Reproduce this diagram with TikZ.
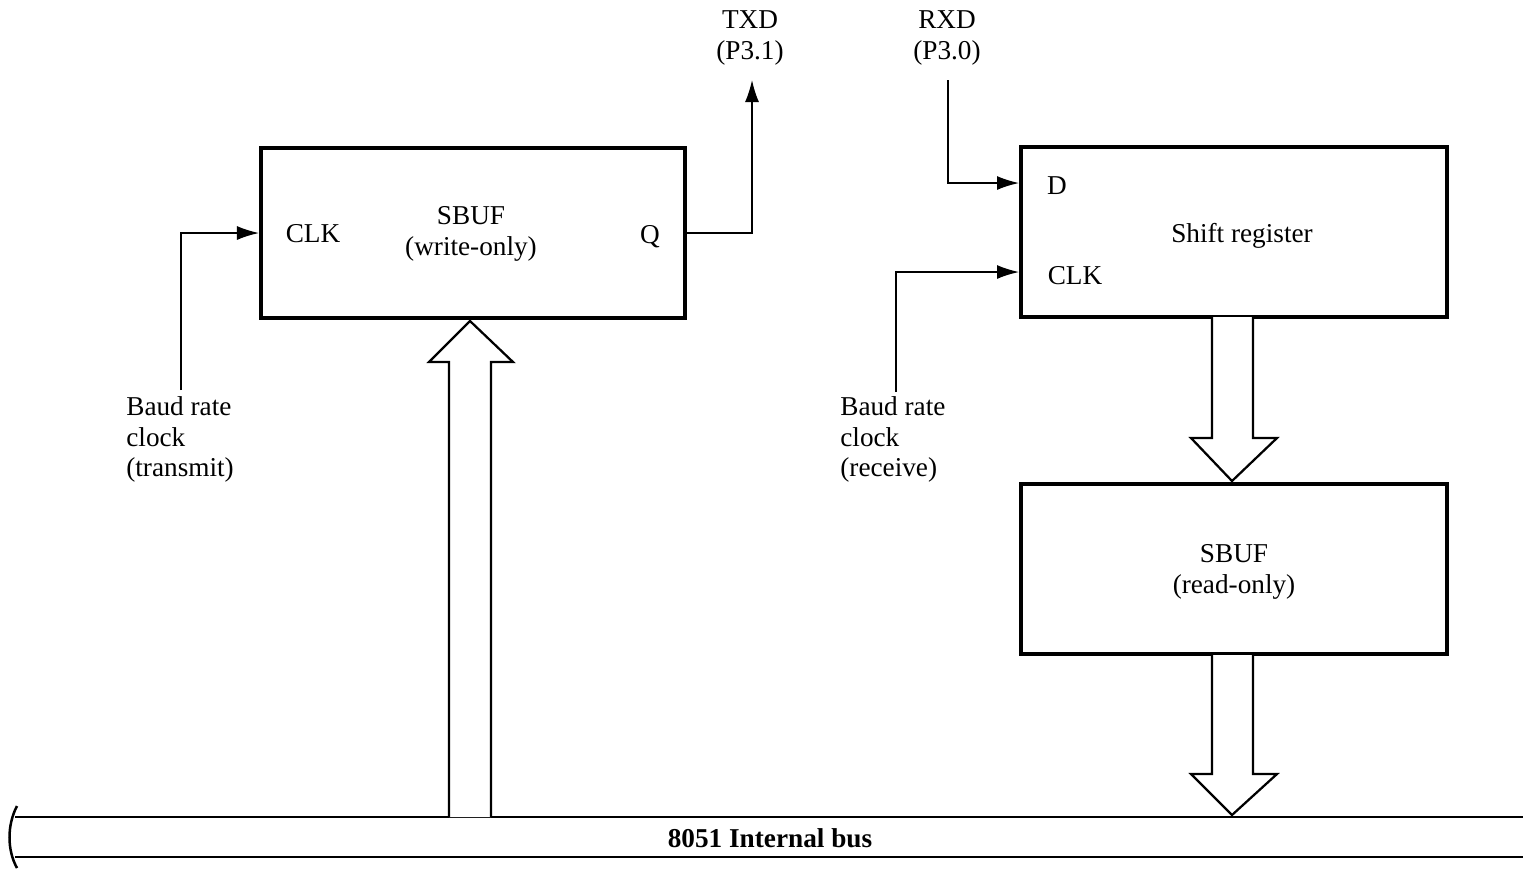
\documentclass[tikz,border=0pt]{standalone}
\usepackage{fontspec}
\setmainfont{Liberation Serif}
\usetikzlibrary{arrows.meta}
\tikzset{
  >={Latex[length=4.4mm,width=2.8mm]},
  regbox/.style={draw,line width=.8mm,inner sep=0pt},
  lbl/.style={font=\fontsize{15.5}{17.5}\selectfont,inner sep=0pt},
  wire/.style={line width=.3mm},
  fat/.style={line width=.45mm,fill=white,line join=miter}
}

\begin{document}
\begin{tikzpicture}[x=.2mm,y=-.2mm]
  \useasboundingbox (0,0) rectangle (1523,868);
  % registers
  \node[regbox,minimum width=84.8mm,minimum height=34mm] (wbuf) at (473,233) {};
  \node[regbox,minimum width=85.2mm,minimum height=34mm] (shreg) at (1234,232) {};
  \node[regbox,minimum width=85.2mm,minimum height=34mm] (rbuf) at (1234,569) {};
  \node[lbl,align=center] (wname) at (471,234) {SBUF\\(write-only)};
  \node[lbl] (wclk) at (313,234) {CLK};
  \node[lbl] (wq) at (650,237) {Q};
  \node[lbl] (sname) at (1242,236) {Shift register};
  \node[lbl] (sd) at (1057,186) {D};
  \node[lbl] (sclk) at (1075,276) {CLK};
  \node[lbl,align=center] (rname) at (1234,572) {SBUF\\(read-only)};
  % pins and clocks
  \node[lbl,align=center] (txd) at (750,38) {TXD\\(P3.1)};
  \node[lbl,align=center] (rxd) at (947,38) {RXD\\(P3.0)};
  \node[lbl,align=left,anchor=north west] (baudtx) at (126,396) {Baud rate\\clock\\(transmit)};
  \node[lbl,align=left,anchor=north west] (baudrx) at (840,396) {Baud rate\\clock\\(receive)};
  \coordinate (txtip) at (752,80);
  \coordinate (rxtap) at (948,80);
  \coordinate (txsrc) at (181,390);
  \coordinate (rxsrc) at (896,392);
  \draw[wire,->] (wbuf.east) -| (txtip);
  \draw[wire,->] (rxtap) |- ([yshift=9.8mm]shreg.west);
  \draw[wire,->] (txsrc) |- (wbuf.west);
  \draw[wire,->] (rxsrc) |- ([yshift=-8mm]shreg.west);
  % internal bus
  \draw[line width=.5mm] (15,817) -- (1523,817) (15,857) -- (1523,857);
  \draw[line width=.5mm] (17,806) .. controls (7,825) and (7,850) .. (17,868);
  \node[lbl,font=\fontsize{15.5}{17.5}\selectfont\bfseries] (bus) at (770,838) {8051 Internal bus};
  % data paths
  \draw[fat] (449,817) -- (449,362) -- (429,362) -- (470,321) -- (513,362)
    -- (491,362) -- (491,817);
  \draw[fat] (1212,317) -- (1212,438) -- (1191,438) -- (1232,481) -- (1277,438)
    -- (1253,438) -- (1253,317);
  \draw[fat] (1212,655) -- (1212,774) -- (1191,774) -- (1232,815) -- (1277,774)
    -- (1253,774) -- (1253,655);
\end{tikzpicture}
\end{document}
